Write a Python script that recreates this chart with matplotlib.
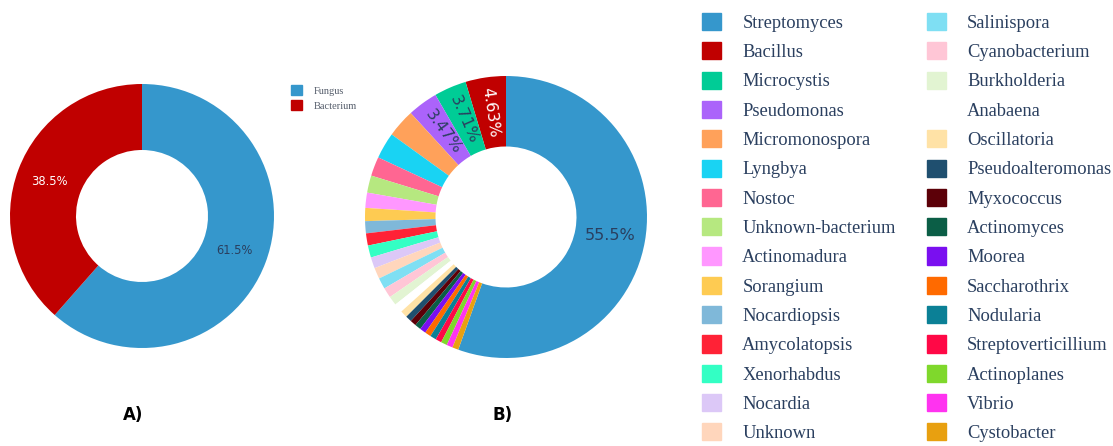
"""Donut charts: source organism type (A) and producing genus (B)."""
import numpy as np
import matplotlib
matplotlib.use('Agg')
import matplotlib.pyplot as plt
from matplotlib.patches import Patch

W, H = 1113, 446
TEXT = '#2a3f5f'

# --- panel A ---
kinds = ['Fungus', 'Bacterium']
kind_pct = [61.5, 38.5]
kind_colors = ['#3597cc', '#c00000']

# --- panel B ---
genera = [
    'Streptomyces', 'Bacillus', 'Microcystis', 'Pseudomonas', 'Micromonospora',
    'Lyngbya', 'Nostoc', 'Unknown-bacterium', 'Actinomadura', 'Sorangium',
    'Nocardiopsis', 'Amycolatopsis', 'Xenorhabdus', 'Nocardia', 'Unknown',
    'Salinispora', 'Cyanobacterium', 'Burkholderia', 'Anabaena', 'Oscillatoria',
    'Pseudoalteromonas', 'Myxococcus', 'Actinomyces', 'Moorea', 'Saccharothrix',
    'Nodularia', 'Streptoverticillium', 'Actinoplanes', 'Vibrio', 'Cystobacter',
]
genus_pct = [
    55.5, 4.63, 3.71, 3.47, 3.24,
    3.01, 2.20, 1.97, 1.74, 1.50,
    1.39, 1.39, 1.39, 1.27, 1.27,
    1.27, 1.16, 1.04, 1.04, 0.81,
    0.70, 0.70, 0.70, 0.70, 0.70,
    0.70, 0.70, 0.70, 0.70, 0.70,
]
genus_colors = [
    '#3597cc', '#c00000', '#00cc96', '#ab63fa', '#ffa15a',
    '#19d3f3', '#ff6692', '#b6e880', '#ff97ff', '#fecb52',
    '#7fb8d9', '#ff2236', '#33ffc4', '#dcc8f7', '#ffd6bc',
    '#7fdff3', '#ffc6d6', '#e2f4d2', '#ffffff', '#ffe2a6',
    '#1f4f6f', '#5c0008', '#0b5e46', '#7a0ff0', '#ff6a00',
    '#0b8096', '#ff0846', '#7fd82c', '#ff33f0', '#e8a010',
]


def donut_axes(cx, cy, r):
    ax = fig.add_axes([(cx - r) / W, (H - cy - r) / H, 2 * r / W, 2 * r / H])
    return ax


def draw_donut(ax, values, colors, labels_at, sizes, rotate):
    frac = np.array(values) / np.sum(values)
    start = 90 - 360 * frac[0]
    ax.pie(values, colors=colors, startangle=start, counterclock=True,
           radius=1.0, wedgeprops=dict(width=0.5, linewidth=0))
    ax.set_xlim(-1, 1)
    ax.set_ylim(-1, 1)
    ax.set_aspect('equal')
    ax.axis('off')
    # percent labels at the middle of the ring
    edges = start + 360 * np.concatenate([[0], np.cumsum(frac)])
    for i in labels_at:
        mid = np.deg2rad((edges[i] + edges[i + 1]) / 2)
        x, y = 0.75 * np.cos(mid), 0.75 * np.sin(mid)
        rot = np.rad2deg(mid) - 180 if rotate and i > 0 else 0
        col = 'white' if colors[i] == '#c00000' else TEXT
        ax.text(x, y, f'{values[i]:g}%', ha='center', va='center',
                fontsize=sizes, color=col, rotation=rot, rotation_mode='anchor')


fig = plt.figure(figsize=(W / 100, H / 100), dpi=100)

axA = donut_axes(142, 216, 132)
draw_donut(axA, kind_pct, kind_colors, [0, 1], 8.3, False)

axB = donut_axes(506, 217, 141)
draw_donut(axB, genus_pct, genus_colors, [0, 1, 2, 3], 11.5, True)

# small legend for panel A
legA = fig.legend(handles=[Patch(color=c, label=k) for k, c in zip(kinds, kind_colors)],
                  loc='upper left', bbox_to_anchor=(291 / W, 1 - 85 / H),
                  frameon=False, prop=dict(family='Liberation Serif', size=7.5),
                  handlelength=1.1, handleheight=1.1, handletextpad=1.1,
                  labelspacing=0.45, borderaxespad=0, borderpad=0)
for t in legA.get_texts():
    t.set_color('#555d6b')

# two-column legend for panel B
legB = fig.legend(handles=[Patch(color=c, label=g) for g, c in zip(genera, genus_colors)],
                  loc='upper left', bbox_to_anchor=(702 / W, 1 - 13 / H), ncol=2,
                  frameon=False, prop=dict(family='Liberation Serif', size=13.3),
                  handlelength=1.05, handleheight=1.05, handletextpad=1.13,
                  labelspacing=0.565, columnspacing=1.68, borderaxespad=0, borderpad=0)
for t in legB.get_texts():
    t.set_color(TEXT)

for label, x in [('A)', 133), ('B)', 503)]:
    fig.text(x / W, 1 - 415 / H, label, ha='center', va='center', fontsize=12,
             fontweight='bold', family=['Liberation Sans Narrow', 'DejaVu Sans'])

fig.savefig('out.png', dpi=100)
